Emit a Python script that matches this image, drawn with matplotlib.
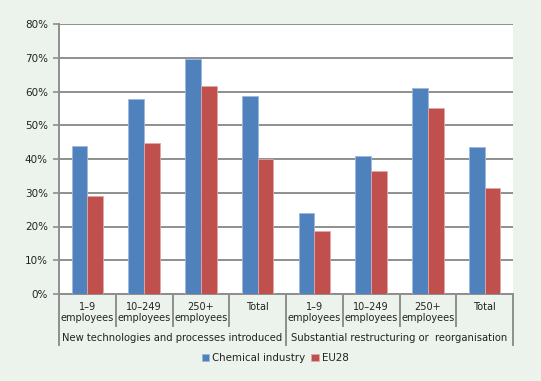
import numpy as np
import matplotlib.pyplot as plt
import matplotlib.transforms as mtransforms

# data (share of companies, %)
categories = ["1\u20139\nemployees", "10\u2013249\nemployees", "250+\nemployees", "Total",
              "1\u20139\nemployees", "10\u2013249\nemployees", "250+\nemployees", "Total"]
groups = ["New technologies and processes introduced",
          "Substantial restructuring or  reorganisation"]
chemical = [43.8, 57.8, 69.6, 58.6, 23.9, 41.0, 60.9, 43.5]
eu28 = [29.0, 44.6, 61.6, 40.0, 18.8, 36.4, 55.2, 31.3]

bg = "#ECF3EC"
blue = "#4F81BD"
red = "#C0504D"
grid_col = "#8E8E8E"
txt = "#222222"

plt.rcParams['font.family'] = 'DejaVu Sans'
plt.rcParams['font.size'] = 7

fig = plt.figure(figsize=(5.41, 3.81), dpi=100, facecolor=bg)
ax = fig.add_axes([59 / 541, 1 - 294 / 381, (513 - 59) / 541, (294 - 24) / 381])
ax.set_facecolor("white")

x = np.arange(len(categories))
w = 0.277
ax.bar(x - w / 2, chemical, w, color=blue, edgecolor="#9DB8DC", linewidth=0.6, zorder=3,
       label="Chemical industry")
ax.bar(x + w / 2, eu28, w, color=red, edgecolor="#E0A8A6", linewidth=0.6, zorder=3,
       label="EU28")

ax.set_xlim(-0.5, len(categories) - 0.5)
ax.set_ylim(0, 80)
ax.set_yticks(range(0, 81, 10))
ax.set_yticklabels([f"{v}%" for v in range(0, 81, 10)], color=txt, fontsize=7.5)
ax.yaxis.grid(True, color=grid_col, linewidth=1.4, zorder=0)
ax.tick_params(axis='y', length=4, width=1.2, color=grid_col, pad=4)

for s in ["top", "right"]:
    ax.spines[s].set_visible(False)
for s in ["left", "bottom"]:
    ax.spines[s].set_color(grid_col)
    ax.spines[s].set_linewidth(1.4)

ax.set_xticks(x)
ax.set_xticklabels(categories, color=txt, fontsize=7, linespacing=1.05)
ax.tick_params(axis='x', length=0, pad=6)

# category separators under the axis
trans = mtransforms.blended_transform_factory(ax.transData, ax.transAxes)
for k in range(len(categories) + 1):
    bottom = -0.189 if k % 4 == 0 else -0.1185
    ax.plot([k - 0.5, k - 0.5], [0, bottom], color=grid_col, linewidth=1.4,
            transform=trans, clip_on=False)

for i, g in enumerate(groups):
    ax.text(1.5 + 4 * i, -0.163, g, transform=trans, ha="center", va="center",
            color=txt, fontsize=7.2)

handles, labels = ax.get_legend_handles_labels()
fig.legend(handles, labels, loc="center", bbox_to_anchor=(275 / 541, 1 - 358 / 381),
           ncol=2, frameon=False, fontsize=7.4, handlelength=0.7, handleheight=0.7,
           handletextpad=0.3, columnspacing=0.6, labelcolor=txt)

fig.savefig("out.png", dpi=100, facecolor=bg)
